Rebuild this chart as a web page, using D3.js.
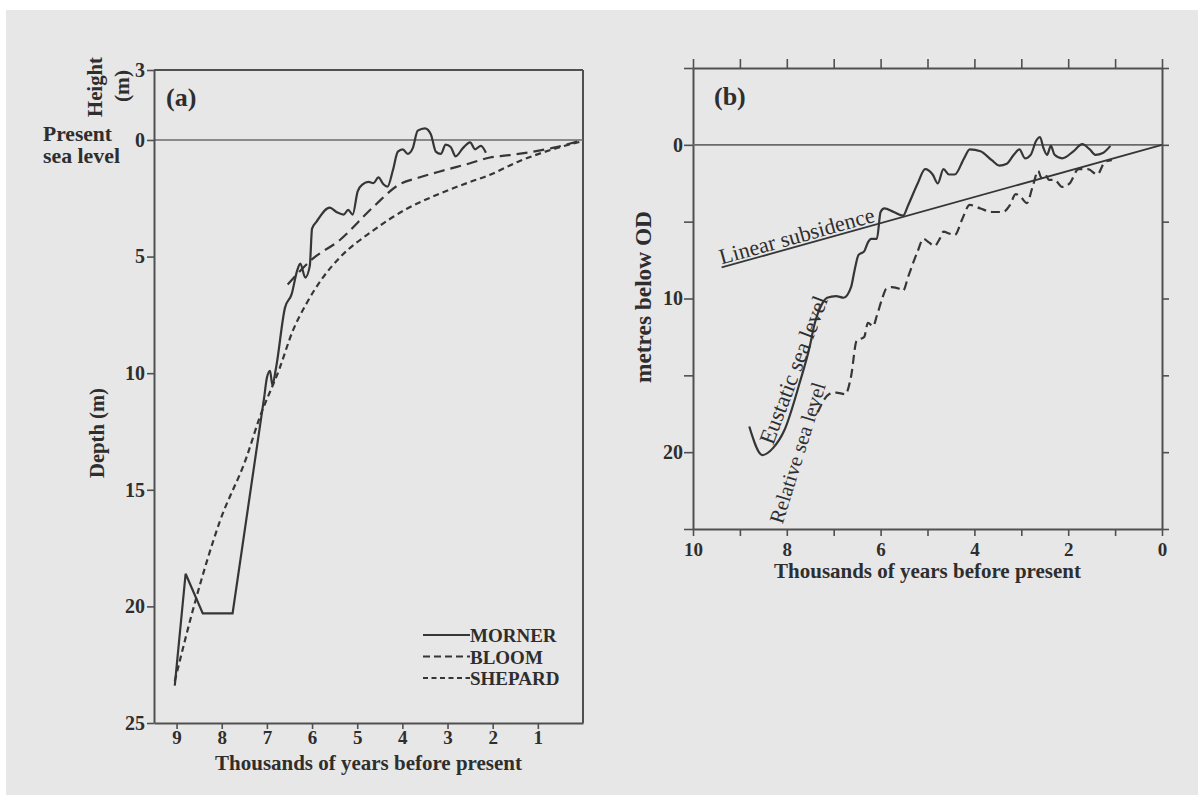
<!DOCTYPE html>
<html>
<head>
<meta charset="utf-8">
<script src="https://cdn.jsdelivr.net/npm/d3@7"></script>
<style>
	body { margin: 0; background: #fff; }
	svg text { font-family: "Liberation Serif", "DejaVu Serif", serif; fill: #2e2e2e; }
</style>
</head>
<body>
<svg id="chart" width="1198" height="796"></svg>
<script>
// (a) thousands of years BP, depth in m (negative = above present sea level)
var mornerA = [[9.04,23.4],[8.8,18.6],[8.42,20.3],[7.76,20.3],[7.05,10.9],[7.0,10.2],[6.93,9.9],[6.88,10.5],
	[6.8,9.8],[6.6,7.2],[6.45,6.6],[6.33,5.6],[6.26,5.3],[6.15,5.9],[6.05,5.4],[6.0,3.8],[5.9,3.5],[5.61,2.9],
	[5.45,3.1],[5.3,3.2],[5.2,3.0],[5.1,3.2],[4.99,2.2],[4.88,1.9],[4.75,1.8],[4.64,1.85],[4.53,1.6],[4.42,1.9],
	[4.33,2.0],[4.21,1.3],[4.1,0.5],[3.99,0.4],[3.88,0.6],[3.77,0.35],[3.66,-0.4],[3.5,-0.5],[3.37,-0.25],
	[3.26,0.5],[3.15,0.6],[3.04,0.2],[2.93,0.3],[2.82,0.7],[2.66,0.35],[2.5,0.1],[2.39,0.4],[2.26,0.25],[2.15,0.55]];
var bloomA = [[6.54,6.2],[5.99,5.1],[5.39,4.3],[4.66,2.9],[4.06,1.9],[3.61,1.6],[3.17,1.35],[2.5,1.0],
	[2.06,0.75],[1.62,0.65],[0.67,0.34],[0,0]];
var shepardA = [[9.04,23.2],[8.56,19.6],[8.05,16.4],[7.45,13.6],[7.16,11.9],[6.72,9.8],[6.43,8.2],[6.12,7.0],
	[5.76,5.9],[5.39,5.05],[4.66,3.9],[3.9,2.95],[3.17,2.3],[2.5,1.8],[2.13,1.55],[1.4,0.9],[0.67,0.4],[0,0.05]];
var xTicksA = [9, 8, 7, 6, 5, 4, 3, 2, 1];
var yTicksA = [-3, 0, 5, 10, 15, 20, 25];
var legendA = ['MORNER', 'BLOOM', 'SHEPARD'];

// (b) thousands of years BP, metres below OD
var eustaticB = [[8.8,18.33],[8.52,20.19],[8.29,19.72],[8.05,18.56],[7.73,15.53],[7.5,12.98],[7.42,11.81],
	[7.26,10.42],[7.14,9.95],[6.95,9.84],[6.79,9.95],[6.63,9.26],[6.55,8.09],[6.47,7.16],[6.35,6.93],[6.27,6.35],
	[6.2,6.12],[6.08,6.12],[6.0,4.37],[5.92,4.14],[5.72,4.37],[5.52,4.6],[5.41,3.91],[5.21,2.51],[5.05,1.58],
	[4.89,1.93],[4.78,2.51],[4.66,1.58],[4.54,1.93],[4.42,1.93],[4.22,0.88],[4.1,0.3],[3.87,0.42],[3.63,1.0],
	[3.47,1.35],[3.31,1.23],[3.16,0.65],[3.04,0.3],[2.92,0.88],[2.8,0.65],[2.68,-0.28],[2.6,-0.51],[2.53,0.19],
	[2.45,0.65],[2.37,0.07],[2.29,0.65],[2.13,0.88],[1.89,0.42],[1.7,-0.05],[1.54,0.3],[1.42,0.65],[1.26,0.53],[1.1,0.07]];
var relativeB = [[7.34,17.4],[7.1,16.23],[6.95,16.12],[6.75,16.23],[6.63,15.07],[6.51,12.74],[6.43,12.63],
	[6.35,12.51],[6.27,11.58],[6.16,11.81],[6.08,11.12],[5.96,9.95],[5.88,9.37],[5.76,9.26],[5.6,9.37],[5.52,9.49],
	[5.41,8.56],[5.21,6.93],[5.09,6.12],[4.97,6.35],[4.85,6.58],[4.74,6.12],[4.66,5.65],[4.54,5.77],[4.42,5.88],
	[4.26,4.84],[4.1,3.91],[3.87,4.14],[3.63,4.37],[3.39,4.37],[3.24,3.91],[3.12,3.21],[3.0,3.44],[2.88,3.79],
	[2.76,2.74],[2.64,1.7],[2.57,2.16],[2.49,1.93],[2.41,2.28],[2.29,2.28],[2.13,2.74],[1.97,2.51],[1.78,1.58],
	[1.58,1.58],[1.38,1.93],[1.22,1.12],[1.07,1.0]];
var subsidenceB = [[9.39,7.98],[0,0]];
var xTicksB = [10, 9, 8, 7, 6, 5, 4, 3, 2, 1, 0];
var xLabelsB = [10, 8, 6, 4, 2, 0];
var yTicksB = [-5, 0, 5, 10, 15, 20, 25];
var yLabelsB = [0, 10, 20];

var ink = '#505050',
	lineInk = '#363636',
	textInk = '#2e2e2e';

var svg = d3.select('#chart');

svg.append('rect')
	.attr('x', 6).attr('y', 10)
	.attr('width', 1192).attr('height', 785)
	.attr('fill', '#e7e7e7');

function fitText(t, w) {
	t.style('font-size', '100px');
	var k = w / t.node().getComputedTextLength();
	t.style('font-size', (100 * k) + 'px');
	return t;
}

function styleAxis(g, size) {
	g.attr('font-family', null);
	g.select('.domain').attr('stroke', ink).attr('stroke-width', 2);
	g.selectAll('.tick line').attr('stroke', ink).attr('stroke-width', 1.6);
	g.selectAll('.tick text')
		.attr('fill', textInk)
		.style('font-size', size + 'px')
		.style('font-weight', 'bold');
}

function rotLabel(str, cx, cy, w, weight) {
	var t = svg.append('text')
		.attr('transform', 'translate(' + cx + ',' + cy + ') rotate(-90)')
		.attr('text-anchor', 'middle')
		.attr('dy', '0.35em')
		.style('font-weight', weight || 'bold')
		.text(str);
	fitText(t, w);
	return t;
}

function alongLabel(str, x1, y1, x2, y2, dy) {
	var ang = Math.atan2(y2 - y1, x2 - x1) * 180 / Math.PI;
	var t = svg.append('text')
		.attr('transform', 'translate(' + x1 + ',' + y1 + ') rotate(' + ang + ')')
		.attr('dy', dy)
		.text(str);
	fitText(t, Math.sqrt((x2 - x1) * (x2 - x1) + (y2 - y1) * (y2 - y1)));
	return t;
}

// ---------- panel (a)
var xA = d3.scaleLinear().domain([9.5, 0]).range([154, 583]);
var yA = d3.scaleLinear().domain([-3, 25]).range([70, 723]);
var lineA = d3.line()
	.x(function(d) { return xA(d[0]); })
	.y(function(d) { return yA(d[1]); })
	.curve(d3.curveMonotoneX);
var zigA = d3.line()
	.x(function(d) { return xA(d[0]); })
	.y(function(d) { return yA(d[1]); });

var gA = svg.append('g');

gA.append('line')
	.attr('x1', xA.range()[0]).attr('x2', xA.range()[1])
	.attr('y1', yA(-3)).attr('y2', yA(-3))
	.attr('stroke', ink).attr('stroke-width', 2);
gA.append('line')
	.attr('x1', xA.range()[1]).attr('x2', xA.range()[1])
	.attr('y1', yA(-3)).attr('y2', yA(25))
	.attr('stroke', ink).attr('stroke-width', 2);
gA.append('line')
	.attr('x1', xA.range()[0]).attr('x2', xA.range()[1])
	.attr('y1', yA(0)).attr('y2', yA(0))
	.attr('stroke', '#6a6a6a').attr('stroke-width', 1.6);

var axLA = gA.append('g')
	.attr('transform', 'translate(' + xA.range()[0] + ',0)')
	.call(d3.axisLeft(yA).tickValues(yTicksA).tickSize(7).tickSizeOuter(0).tickPadding(2)
		.tickFormat(function(d) { return Math.abs(d); }));
styleAxis(axLA, 20);

var axBA = gA.append('g')
	.attr('transform', 'translate(0,' + yA(25) + ')')
	.call(d3.axisBottom(xA).tickValues(xTicksA).tickSize(6).tickSizeOuter(0).tickPadding(2));
styleAxis(axBA, 19);

var seriesA = [
	{ data: mornerA, dash: null },
	{ data: bloomA, dash: '11,6' },
	{ data: shepardA, dash: '6,4' }
];

// Morner: sharp early zigzag, smooth wiggles afterwards
gA.append('path')
	.attr('d', zigA(mornerA.slice(0, 5)))
	.attr('fill', 'none')
	.attr('stroke', lineInk)
	.attr('stroke-width', 2.2)
	.attr('stroke-linejoin', 'miter');

gA.selectAll('path.series')
	.data(seriesA)
	.enter().append('path')
	.attr('class', 'series')
	.attr('d', function(d, i) { return lineA(i == 0 ? d.data.slice(4) : d.data); })
	.attr('fill', 'none')
	.attr('stroke', lineInk)
	.attr('stroke-width', 2.2)
	.attr('stroke-dasharray', function(d) { return d.dash; });

// legend
var leg = gA.selectAll('g.leg')
	.data(seriesA)
	.enter().append('g')
	.attr('class', 'leg')
	.attr('transform', function(d, i) { return 'translate(423,' + (635 + i * 21.5) + ')'; });
leg.append('line')
	.attr('x1', 0).attr('x2', 47)
	.attr('stroke', lineInk).attr('stroke-width', 2)
	.attr('stroke-dasharray', function(d, i) { return i == 0 ? null : (i == 1 ? '7,4' : '5,3.5'); });
leg.append('text')
	.attr('x', 47).attr('y', 7)
	.style('font-size', '19px')
	.style('font-weight', 'bold')
	.text(function(d, i) { return legendA[i]; });

gA.append('text').attr('x', 166).attr('y', 106)
	.style('font-size', '26px').style('font-weight', 'bold').text('(a)');

fitText(svg.append('text').attr('x', 43).attr('y', 141)
	.style('font-weight', 'bold').text('Present'), 69);
fitText(svg.append('text').attr('x', 43).attr('y', 163)
	.style('font-weight', 'bold').text('sea level'), 77);

rotLabel('Height', 95, 87, 60);
rotLabel('(m)', 122, 86, 32);
rotLabel('Depth (m)', 97, 433, 90);

fitText(svg.append('text')
	.attr('x', (215 + 522) / 2).attr('y', 770)
	.attr('text-anchor', 'middle')
	.style('font-weight', 'bold')
	.text('Thousands of years before present'), 307);

// ---------- panel (b)
var xB = d3.scaleLinear().domain([10, 0]).range([693, 1162]);
var yB = d3.scaleLinear().domain([-5, 25]).range([68, 529]);
var lineB = d3.line()
	.x(function(d) { return xB(d[0]); })
	.y(function(d) { return yB(d[1]); })
	.curve(d3.curveMonotoneX);

var gB = svg.append('g');

var axLB = gB.append('g')
	.attr('transform', 'translate(' + xB.range()[0] + ',0)')
	.call(d3.axisLeft(yB).tickValues(yTicksB).tickSize(9).tickSizeOuter(0).tickPadding(1)
		.tickFormat(function(d) { return yLabelsB.indexOf(d) >= 0 ? d : ''; }));
styleAxis(axLB, 20);

var axRB = gB.append('g')
	.attr('transform', 'translate(' + xB.range()[1] + ',0)')
	.call(d3.axisRight(yB).tickValues(yTicksB).tickSize(7).tickSizeOuter(0).tickFormat(''));
styleAxis(axRB, 20);

var axTB = gB.append('g')
	.attr('transform', 'translate(0,' + yB(-5) + ')')
	.call(d3.axisTop(xB).tickValues(xTicksB).tickSize(9).tickSizeOuter(0).tickFormat(''));
styleAxis(axTB, 20);

var axBB = gB.append('g')
	.attr('transform', 'translate(0,' + yB(25) + ')')
	.call(d3.axisBottom(xB).tickValues(xTicksB).tickSize(7).tickSizeOuter(0).tickPadding(7)
		.tickFormat(function(d) { return xLabelsB.indexOf(d) >= 0 ? d : ''; }));
styleAxis(axBB, 19);

gB.append('line')
	.attr('x1', xB.range()[0]).attr('x2', xB.range()[1])
	.attr('y1', yB(0)).attr('y2', yB(0))
	.attr('stroke', '#6a6a6a').attr('stroke-width', 1.6);

var seriesB = [
	{ data: subsidenceB, dash: null, w: 1.8 },
	{ data: eustaticB, dash: null, w: 2.2 },
	{ data: relativeB, dash: '9,5', w: 2.2 }
];

gB.selectAll('path.series')
	.data(seriesB)
	.enter().append('path')
	.attr('class', 'series')
	.attr('d', function(d) { return lineB(d.data); })
	.attr('fill', 'none')
	.attr('stroke', lineInk)
	.attr('stroke-width', function(d) { return d.w; })
	.attr('stroke-dasharray', function(d) { return d.dash; });

gB.append('text').attr('x', 714).attr('y', 105)
	.style('font-size', '26px').style('font-weight', 'bold').text('(b)');

// labels along the curves
var sx0 = subsidenceB[0][0], sd0 = subsidenceB[0][1];
alongLabel('Linear subsidence',
	xB(sx0), yB(sd0) - 3,
	xB(6.1), yB(sd0 * 6.1 / sx0) - 3, 0);
alongLabel('Eustatic sea level', xB(8.43), yB(19.43), xB(7.25), yB(9.89), '0.3em');
alongLabel('Relative sea level', xB(8.22), yB(24.6), xB(7.29), yB(15.5), '0.3em');

rotLabel('metres below OD', 643, 297, 172);

fitText(svg.append('text')
	.attr('x', (774 + 1081) / 2).attr('y', 578)
	.attr('text-anchor', 'middle')
	.style('font-weight', 'bold')
	.text('Thousands of years before present'), 307);
</script>
</body>
</html>
